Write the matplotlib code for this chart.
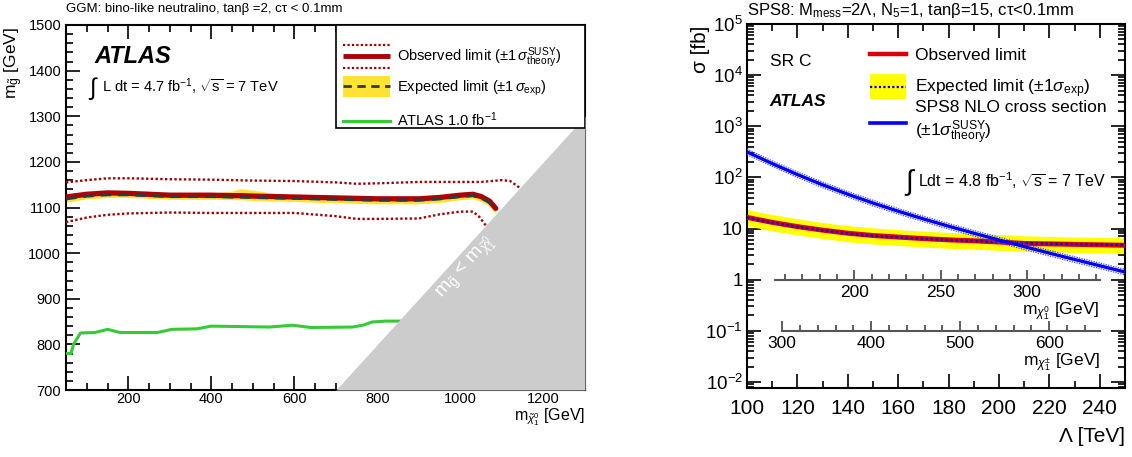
import numpy as np
import matplotlib
matplotlib.use('Agg')
import matplotlib.pyplot as plt
from matplotlib.lines import Line2D
from matplotlib.patches import Patch, Rectangle
from matplotlib.legend import Legend
from matplotlib.legend_handler import HandlerBase
from matplotlib.ticker import MultipleLocator, LogLocator, NullFormatter, FixedLocator, FixedFormatter

plt.rcParams['font.family'] = ['Liberation Sans', 'DejaVu Sans']
plt.rcParams['mathtext.fontset'] = 'custom'
plt.rcParams['mathtext.rm'] = 'Liberation Sans'
plt.rcParams['mathtext.it'] = 'Liberation Sans:italic'
plt.rcParams['mathtext.bf'] = 'Liberation Sans:bold'
plt.rcParams['mathtext.sf'] = 'Liberation Sans'

# ---------------- Left panel data (GGM) ----------------
ggm_x = [50, 100, 150, 200, 250, 300, 350, 400, 450, 470, 500, 550, 600, 700, 800, 900, 950, 1000, 1030, 1050, 1070, 1085]
ggm_obs = [1123, 1129, 1132, 1131, 1129, 1127, 1127, 1127, 1126, 1126, 1125, 1124, 1123, 1121, 1119, 1119, 1122, 1127, 1129, 1124, 1114, 1098]
ggm_exp = [1119, 1125, 1128, 1128, 1126, 1124, 1124, 1124, 1123, 1123, 1122, 1121, 1120, 1118, 1116, 1116, 1119, 1124, 1126, 1121, 1111, 1095]
ggm_exp_hi = [1131, 1133, 1135, 1135, 1133, 1131, 1131, 1131, 1136, 1141, 1138, 1131, 1128, 1125, 1123, 1123, 1126, 1131, 1133, 1128, 1119, 1104]
ggm_exp_lo = [1111, 1119, 1122, 1122, 1120, 1118, 1118, 1118, 1117, 1117, 1115, 1114, 1113, 1110, 1108, 1108, 1111, 1117, 1119, 1113, 1103, 1086]

ggm_th_up_x = [50, 100, 150, 200, 300, 400, 500, 600, 700, 750, 800, 900, 1000, 1050, 1100, 1120, 1140, 1160]
ggm_th_up = [1155, 1160, 1164, 1164, 1162, 1161, 1159, 1158, 1155, 1152, 1153, 1156, 1156, 1156, 1160, 1158, 1145, 1125]
ggm_th_dn_x = [50, 100, 150, 200, 300, 400, 500, 600, 700, 750, 800, 900, 950, 1000, 1030, 1045, 1060, 1075]
ggm_th_dn = [1068, 1078, 1084, 1087, 1089, 1088, 1088, 1088, 1081, 1075, 1075, 1076, 1085, 1091, 1091, 1080, 1062, 1045]

atlas1fb_x = [50, 62, 68, 85, 120, 150, 180, 270, 305, 365, 400, 540, 595, 640, 740, 765, 787, 820, 870]
atlas1fb_y = [780, 780, 800, 825, 826, 833, 826, 826, 833, 834, 840, 838, 842, 837, 838, 842, 849, 851, 851]

diag_x = [700, 1300]   # m_gluino = m_neutralino boundary

# ---------------- Right panel data (SPS8) ----------------
lam = [100, 110, 120, 130, 140, 150, 160, 170, 180, 190, 200, 210, 220, 230, 240, 250]
sps_obs = [16.5, 13.2, 10.9, 9.3, 8.1, 7.3, 6.8, 6.35, 6.0, 5.75, 5.45, 5.1, 5.0, 4.9, 4.8, 4.7]
sps_exp = [16.3, 13.0, 10.8, 9.2, 8.0, 7.2, 6.7, 6.3, 5.95, 5.7, 5.4, 5.15, 5.05, 4.95, 4.85, 4.75]
sps_exp_hi = [23.5, 18.8, 15.5, 13.1, 11.4, 10.3, 9.5, 8.9, 8.4, 8.0, 7.6, 7.2, 7.0, 6.8, 6.7, 6.6]
sps_exp_lo = [11.3, 9.0, 7.5, 6.4, 5.5, 5.0, 4.65, 4.35, 4.1, 3.95, 3.75, 3.55, 3.5, 3.4, 3.35, 3.3]
sps_xsec = [316, 186, 113.5, 71.6, 46.8, 31.5, 21.8, 15.4, 11.1, 8.1, 5.97, 4.43, 3.30, 2.48, 1.87, 1.41]
sps_xsec_hi = [357, 210, 128, 81, 52.9, 35.6, 24.6, 17.4, 12.5, 9.15, 6.75, 5.0, 3.73, 2.80, 2.11, 1.59]
sps_xsec_lo = [278, 164, 99.9, 63, 41.2, 27.7, 19.2, 13.6, 9.77, 7.13, 5.25, 3.9, 2.9, 2.18, 1.65, 1.24]

ytick_vals = [1e-2, 1e-1, 1, 10, 1e2, 1e3, 1e4, 1e5]
ytick_labels = ['$10^{-2}$', '$10^{-1}$', '1', '10', '$10^{2}$', '$10^{3}$', '$10^{4}$', '$10^{5}$']

# secondary mass axes: (Lambda start, Lambda end), mass range, major and minor ticks
chi0_lam = (111, 240)
chi0_mass = (154, 342)
chi0_major = [200, 250, 300]
chi0_minor = list(range(160, 341, 10))
chipm_lam = (114, 240)
chipm_mass = (300, 657)
chipm_major = [300, 400, 500, 600]
chipm_minor = list(range(300, 641, 20))

# ---------------- colors ----------------
c_obs_l = '#b00000'
c_dot_l = '#a00000'
c_exp_l = '#2d3a45'
c_band_l = '#ffe234'
c_green = '#33cc33'


class HandlerObsLeft(HandlerBase):
    def create_artists(self, legend, orig_handle, xdescent, ydescent, width, height, fontsize, trans):
        x0, x1 = -xdescent, -xdescent + width
        yc = -ydescent + height / 2
        off = fontsize * 0.78
        arts = [Line2D([x0, x1], [yc, yc], color=c_obs_l, lw=3.5, solid_capstyle='butt')]
        for dy in (off, -off):
            arts.append(Line2D([x0, x1], [yc + dy] * 2, color=c_dot_l, lw=1.6, ls=(0, (1, 1))))
        for a in arts:
            a.set_transform(trans)
        return arts


class HandlerBand(HandlerBase):
    def __init__(self, fc, lc, ls, lw, hfac):
        super().__init__()
        self.fc, self.lc, self.ls, self.lw, self.hfac = fc, lc, ls, lw, hfac

    def create_artists(self, legend, orig_handle, xdescent, ydescent, width, height, fontsize, trans):
        x0 = -xdescent
        yc = -ydescent + height / 2
        h = fontsize * self.hfac
        r = Rectangle((x0, yc - h / 2), width, h, facecolor=self.fc, edgecolor='none', transform=trans)
        l = Line2D([x0, x0 + width], [yc, yc], color=self.lc, ls=self.ls, lw=self.lw, transform=trans)
        return [r, l]


def row_legend(ax, handle, label, x, y, fontsize, hlen, hmap=None, zorder=10):
    leg = Legend(ax, [handle], [label], loc='center left', bbox_to_anchor=(x, y), borderaxespad=0,
                 borderpad=0, frameon=False, fontsize=fontsize, handlelength=hlen,
                 handletextpad=0.5, handler_map=hmap or {})
    leg.set_zorder(zorder)
    ax.add_artist(leg)
    return leg


fig = plt.figure(figsize=(11.32, 4.57), dpi=100)

# ======================= LEFT =======================
axL = fig.add_axes([66 / 1132, 67 / 457, 519 / 1132, 365 / 457])
axL.fill_between(ggm_x, ggm_exp_lo, ggm_exp_hi, color=c_band_l, lw=0, zorder=2)
axL.plot(ggm_x, ggm_obs, color=c_obs_l, lw=3.8, zorder=3, solid_capstyle='round')
axL.plot(ggm_x, ggm_exp, color=c_exp_l, lw=2.2, ls=(0, (3.5, 2.2)), zorder=4)
axL.plot(ggm_th_up_x, ggm_th_up, color=c_dot_l, lw=1.7, ls=(0, (1, 1)), zorder=3)
axL.plot(ggm_th_dn_x, ggm_th_dn, color=c_dot_l, lw=1.7, ls=(0, (1, 1)), zorder=3)
axL.plot(atlas1fb_x, atlas1fb_y, color=c_green, lw=2.2, zorder=3)
axL.fill_between(diag_x, [700, 700], diag_x, color='#cccccc', lw=0, zorder=6)
axL.text(1013, 968, r'$\mathrm{m}_{\tilde{\mathrm{g}}}$ < $\mathrm{m}_{\tilde{\chi}^{0}_{1}}$',
         color='white', fontsize=14, rotation=48, ha='center', va='center', zorder=7)

axL.set_xlim(50, 1300)
axL.set_ylim(700, 1500)
axL.xaxis.set_major_locator(FixedLocator([200, 400, 600, 800, 1000, 1200]))
axL.xaxis.set_minor_locator(MultipleLocator(50))
axL.yaxis.set_major_locator(MultipleLocator(100))
axL.yaxis.set_minor_locator(MultipleLocator(20))
axL.tick_params(which='both', direction='in', top=True, right=True, labelsize=10.5, width=1.2)
axL.tick_params(which='major', length=10)
axL.tick_params(which='minor', length=5)
axL.tick_params(axis='x', pad=1.5)
for s in axL.spines.values():
    s.set_linewidth(1.5)

fig.text(66 / 1132, 1 - 9 / 457, r'GGM: bino-like neutralino, tanβ =2, cτ < 0.1mm', fontsize=9.5,
         ha='left', va='center')
fig.text(14 / 1132, 1 - 27 / 457, r'$\mathrm{m}_{\tilde{\mathrm{g}}}$ [GeV]', rotation=90, fontsize=12.5,
         ha='center', va='top')
fig.text(585 / 1132, 1 - 406 / 457, r'$\mathrm{m}_{\tilde{\chi}^{0}_{1}}$ [GeV]', fontsize=11.5,
         ha='right', va='top')

axL.text(0.055, 0.915, 'ATLAS', transform=axL.transAxes, fontsize=17, fontweight='bold', style='italic',
         ha='left', va='center')
axL.text(0.045, 0.825, '∫', transform=axL.transAxes, fontsize=17, ha='left', va='center')
axL.text(0.07, 0.83, r'L dt = 4.7 fb$^{-1}$, $\sqrt{\mathrm{s}}$ = 7 TeV', transform=axL.transAxes,
         fontsize=10.5, ha='left', va='center')

# legend box (frame) and entries, one row each
axL.add_patch(Rectangle((0.52, 0.718), 0.48, 0.282, transform=axL.transAxes, facecolor='white',
                        edgecolor='black', lw=1.2, zorder=9))
hL_obs, hL_exp = Line2D([], []), Patch()
hL_old = Line2D([], [], color=c_green, lw=2.2)
row_legend(axL, hL_obs, r'Observed limit ($\pm$1$\,\sigma^{\mathrm{SUSY}}_{\mathrm{theory}}$)',
           0.534, 0.9096, 10.5, 3.2, {hL_obs: HandlerObsLeft()})
row_legend(axL, hL_exp, r'Expected limit ($\pm$1$\,\sigma_{\mathrm{exp}}$)',
           0.534, 0.827, 10.5, 3.2, {hL_exp: HandlerBand(c_band_l, c_exp_l, (0, (3, 2)), 2.0, 1.45)})
row_legend(axL, hL_old, r'ATLAS 1.0 fb$^{-1}$', 0.534, 0.7397, 10.5, 3.2)

# ======================= RIGHT =======================
axR = fig.add_axes([747 / 1132, 69 / 457, 378 / 1132, 364 / 457])
axR.set_yscale('log')
ymin, ymax = 0.0076, 1e5
axR.set_xlim(100, 250)
axR.set_ylim(ymin, ymax)
axR.fill_between(lam, sps_exp_lo, sps_exp_hi, color='#ffff00', lw=0, zorder=2)
axR.plot(lam, sps_obs, color='#dd0000', lw=3.6, zorder=3)
axR.plot(lam, sps_exp, color='#0000ff', lw=1.8, ls=(0, (1, 1)), zorder=4)
axR.plot(lam, sps_xsec, color='#0000ff', lw=2.4, zorder=5)
axR.plot(lam, sps_xsec_hi, color='#4444ff', lw=0.9, ls=(0, (1, 1)), zorder=5)
axR.plot(lam, sps_xsec_lo, color='#4444ff', lw=0.9, ls=(0, (1, 1)), zorder=5)

axR.yaxis.set_major_locator(FixedLocator(ytick_vals))
axR.yaxis.set_major_formatter(FixedFormatter(ytick_labels))
axR.yaxis.set_minor_locator(LogLocator(base=10, subs=np.arange(2, 10), numticks=50))
axR.yaxis.set_minor_formatter(NullFormatter())
axR.xaxis.set_major_locator(MultipleLocator(20))
axR.xaxis.set_minor_locator(MultipleLocator(10))
axR.tick_params(which='both', direction='in', top=True, right=True, width=1.2)
axR.tick_params(which='major', length=10)
axR.tick_params(which='minor', length=5)
axR.tick_params(axis='x', labelsize=15, pad=8)
axR.tick_params(axis='y', labelsize=13.5, pad=3)
for s in axR.spines.values():
    s.set_linewidth(1.5)

fig.text(747 / 1132, 1 - 11 / 457, r'SPS8: M$_{\mathrm{mess}}$=2Λ, N$_{5}$=1, tanβ=15, cτ<0.1mm',
         fontsize=12, ha='left', va='center')
fig.text(701 / 1132, 1 - 26 / 457, 'σ [fb]', rotation=90, fontsize=15, ha='center', va='top')
fig.text(1125 / 1132, 1 - 437 / 457, 'Λ [TeV]', fontsize=15, ha='right', va='center')

axR.text(0.06, 0.896, 'SR C', transform=axR.transAxes, fontsize=12.5, ha='left', va='center')
axR.text(0.06, 0.788, 'ATLAS', transform=axR.transAxes, fontsize=12.5, fontweight='bold', style='italic',
         ha='left', va='center')
axR.text(0.418, 0.565, '∫', transform=axR.transAxes, fontsize=20, ha='left', va='center')
axR.text(0.453, 0.57, r'Ldt = 4.8 fb$^{-1}$, $\sqrt{\mathrm{s}}$ = 7 TeV', transform=axR.transAxes,
         fontsize=11.5, ha='left', va='center')

hR_obs = Line2D([], [], color='#dd0000', lw=3.2)
hR_exp = Patch()
hR_th = Line2D([], [], color='#0000ff', lw=2.6)
row_legend(axR, hR_obs, 'Observed limit', 0.325, 0.9148, 12.5, 2.1)
row_legend(axR, hR_exp, r'Expected limit ($\pm$1$\sigma_{\mathrm{exp}}$)', 0.325, 0.8214, 12.5, 2.1,
           {hR_exp: HandlerBand('#ffff00', '#0000ff', (0, (1, 1)), 1.6, 1.4)})
row_legend(axR, hR_th, 'SPS8 NLO cross section\n' + r'($\pm$1$\sigma^{\mathrm{SUSY}}_{\mathrm{theory}}$)',
           0.325, 0.727, 12.5, 2.1)

# secondary mass axes inside right panel
def frac_y(v):
    return (np.log10(v) - np.log10(ymin)) / (np.log10(ymax) - np.log10(ymin))

for (l0, l1), (m0, m1), yv, majs, mins, lab in [
        (chi0_lam, chi0_mass, 1.0, chi0_major, chi0_minor, r'$\mathrm{m}_{\chi^{0}_{1}}$ [GeV]'),
        (chipm_lam, chipm_mass, 0.1, chipm_major, chipm_minor, r'$\mathrm{m}_{\chi^{\pm}_{1}}$ [GeV]')]:
    x0 = (l0 - 100) / 150
    w = (l1 - l0) / 150
    ins = axR.inset_axes([x0, frac_y(yv), w, 0.001])
    ins.set_xlim(m0, m1)
    ins.patch.set_alpha(0)
    for k in ('top', 'left', 'right'):
        ins.spines[k].set_visible(False)
    ins.spines['bottom'].set_color('#555555')
    ins.spines['bottom'].set_linewidth(1.5)
    ins.set_yticks([])
    ins.xaxis.set_major_locator(FixedLocator(majs))
    ins.xaxis.set_minor_locator(FixedLocator(mins))
    ins.tick_params(axis='x', which='both', direction='in', color='#333333', width=1.1, labelsize=12.5, pad=4)
    ins.tick_params(axis='x', which='major', length=7)
    ins.tick_params(axis='x', which='minor', length=4)
    ins.set_xlabel(lab, loc='right', fontsize=12.5, labelpad=0)

fig.savefig('out.png', dpi=100)
